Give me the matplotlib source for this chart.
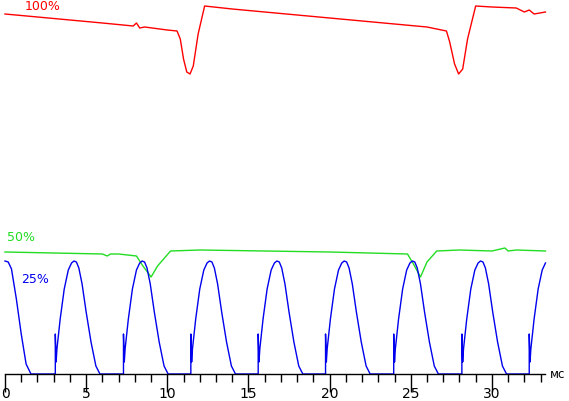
import matplotlib
matplotlib.use("Agg")
import matplotlib.pyplot as plt
import numpy as np

# x in ms, y in arbitrary units (axis line at 0)
red_x = [0, 2, 4, 6, 7.9, 8.1, 8.3, 8.6, 10, 10.6, 10.8, 11.0, 11.2, 11.4, 11.6, 11.9, 12.3, 14, 18, 22, 26, 27.2, 27.4, 27.7, 27.95, 28.2, 28.5, 29.0, 30, 31.5, 32.0, 32.3, 32.6, 33.3]
red_y = [360, 357, 354, 351, 348, 351, 346, 347, 344, 343, 335, 315, 302, 300, 308, 340, 368, 365, 359, 353, 347, 343, 332, 310, 300, 305, 335, 368, 367, 366, 362, 364, 360, 362]

green_x = [0, 3, 6, 6.3, 6.5, 7, 8.1, 8.5, 9.0, 9.4, 10.2, 12, 16, 20, 24.8, 25.2, 25.6, 26.0, 26.6, 28, 30, 30.8, 31.0, 31.5, 33.3]
green_y = [122, 121, 120, 118, 120, 120, 118, 108, 97, 108, 123, 124, 123, 122, 120, 109, 97, 112, 123, 124, 123, 126, 123, 124, 123]

blue_head_x = [0, 0.2, 0.4, 0.7, 1.0, 1.3, 1.6, 3.1]
blue_head_y = [113, 112, 105, 75, 40, 10, 0, 0]
pulse_starts = [3.1, 7.3, 11.45, 15.6, 19.75, 23.95, 28.15, 32.3]
pulse_dx = [0, 0, 0.05, 0.1, 0.3, 0.55, 0.8, 1.0, 1.15, 1.3, 1.45, 1.65, 1.9, 2.2, 2.5, 2.75, 4.15]
pulse_dy = [0, 40, 12, 25, 55, 85, 104, 111, 113, 112, 106, 90, 62, 32, 8, 0, 0]

fig = plt.figure(figsize=(5.69, 4.02), dpi=100)
ax = fig.add_axes([0, 0, 1, 1])
ax.set_xlim(-5/16.23, 564/16.23)
ax.set_ylim(-27, 375)

ax.plot(red_x, red_y, color="#ff0000", lw=1.0)
ax.plot(green_x, green_y, color="#22dd22", lw=1.0)
bx = list(blue_head_x); by = list(blue_head_y)
for t0 in pulse_starts:
    for dx, dy in zip(pulse_dx, pulse_dy):
        if t0 + dx <= 33.3:
            bx.append(t0 + dx); by.append(dy)
ax.plot(bx, by, color="#0000ee", lw=1.0)

for s in ["top", "left", "right"]:
    ax.spines[s].set_visible(False)
ax.spines["bottom"].set_position(("data", 0))
ax.spines["bottom"].set_bounds(0, 33.3)
ax.spines["bottom"].set_linewidth(1.0)
ax.set_yticks([])
ax.set_xticks([0, 5, 10, 15, 20, 25, 30])
ax.set_xticks(np.arange(0, 34, 1), minor=True)
ax.tick_params(axis="x", which="major", direction="out", length=13, width=1.0, labelsize=10, pad=-4)
ax.tick_params(axis="x", which="minor", direction="out", length=6, width=1.0)

ax.text(1.2, 375-7, "100%", color="#ff0000", fontsize=9, va="center")
ax.text(0.1, 375-238, "50%", color="#22dd22", fontsize=9, va="center")
ax.text(1.0, 375-280, "25%", color="#0000ee", fontsize=9, va="center")
ax.text(33.6, 0, "мс", fontsize=8.5, va="center")

fig.savefig("out.png", dpi=100)
